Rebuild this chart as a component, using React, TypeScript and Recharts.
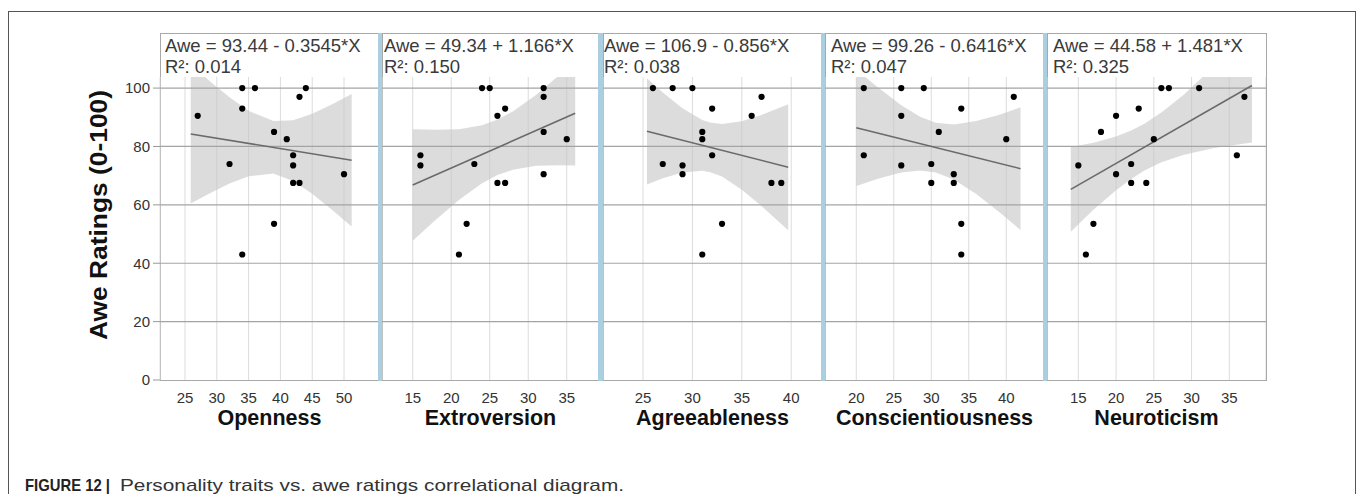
import React from 'react';
import { ComposedChart, Scatter, Area, Line, XAxis, YAxis, CartesianGrid, ReferenceLine } from 'recharts';

const traitNames = ['Openness', 'Extroversion', 'Agreeableness', 'Conscientiousness', 'Neuroticism'];
const equationLabels = [
  'Awe = 93.44 - 0.3545*X',
  'Awe = 49.34 + 1.166*X',
  'Awe = 106.9 - 0.856*X',
  'Awe = 99.26 - 0.6416*X',
  'Awe = 44.58 + 1.481*X',
];
const rSquaredLabels = ['R²: 0.014', 'R²: 0.150', 'R²: 0.038', 'R²: 0.047', 'R²: 0.325'];
const xTickValues = [
  [25, 30, 35, 40, 45, 50],
  [15, 20, 25, 30, 35],
  [25, 30, 35, 40],
  [20, 25, 30, 35, 40],
  [15, 20, 25, 30, 35],
];
const yTickValues = [0, 20, 40, 60, 80, 100];
const gridValues = [20, 40, 60, 80, 100];

// awe rating of each participant (same order in every panel)
const aweRatings = [100, 100, 100, 97, 93, 90.5, 85, 82.5, 77, 74, 73.5, 70.5, 67.5, 67.5, 53.5, 43];
const opennessScores = [34, 36, 44, 43, 34, 27, 39, 41, 42, 32, 42, 50, 42, 43, 39, 34];
const extroversionScores = [24, 25, 32, 32, 27, 26, 32, 35, 16, 23, 16, 32, 26, 27, 22, 21];
const agreeablenessScores = [26, 28, 30, 37, 32, 36, 31, 31, 32, 27, 29, 29, 38, 39, 33, 31];
const conscientiousnessScores = [21, 26, 29, 41, 34, 26, 31, 40, 21, 30, 26, 33, 30, 33, 34, 34];
const neuroticismScores = [26, 27, 31, 37, 23, 20, 18, 25, 36, 22, 15, 20, 22, 24, 17, 16];

// ends of the fitted line
const fitX = [[25.9, 51.2], [15, 36.1], [25.4, 39.7], [20, 41.9], [14, 38]];
const fitY = [[84.3, 75.3], [66.8, 91.4], [85.2, 72.9], [86.4, 72.4], [65.3, 100.9]];

// grey confidence band, sampled along x
const opennessBandX = [25.9, 29, 32, 35, 38.9, 42, 45, 48, 51.2];
const opennessBandLow = [60.5, 64.1, 67.3, 69.8, 70.7, 68.2, 63.8, 58.5, 52.6];
const opennessBandHigh = [108.1, 102.2, 96.9, 92.2, 88.7, 89.0, 91.2, 94.3, 98.0];

const extroversionBandX = [15, 18, 21, 24, 26, 28, 31, 34, 36.1];
const extroversionBandLow = [47.7, 54.9, 61.7, 67.4, 70.2, 72.0, 73.4, 73.6, 73.5];
const extroversionBandHigh = [85.9, 85.7, 85.9, 87.3, 89.2, 92.0, 97.6, 104.4, 109.4];

const agreeablenessBandX = [25.4, 27, 29, 31, 31.8, 33, 35, 37, 39.7];
const agreeablenessBandLow = [67.0, 69.1, 71.1, 71.7, 71.2, 69.7, 65.2, 59.6, 51.3];
const agreeablenessBandHigh = [103.4, 98.5, 93.1, 89.1, 88.2, 87.7, 88.6, 90.8, 94.5];

const conscientiousnessBandX = [20, 23, 26, 28.5, 30.6, 33, 36, 39, 41.9];
const conscientiousnessBandLow = [66.5, 69.0, 71.1, 71.8, 71.1, 68.7, 63.7, 57.6, 51.4];
const conscientiousnessBandHigh = [106.3, 100.0, 94.1, 90.2, 88.1, 87.5, 88.7, 90.8, 93.4];

const neuroticismBandX = [14, 17, 20, 22, 23.7, 26, 29, 33, 38];
const neuroticismBandLow = [50.8, 58.3, 65.0, 68.9, 71.7, 74.6, 77.2, 79.5, 81.4];
const neuroticismBandHigh = [79.8, 81.3, 83.4, 85.5, 87.7, 91.6, 97.8, 107.5, 120.4];

const traitScores = [opennessScores, extroversionScores, agreeablenessScores, conscientiousnessScores, neuroticismScores];
const bandXs = [opennessBandX, extroversionBandX, agreeablenessBandX, conscientiousnessBandX, neuroticismBandX];
const bandLows = [opennessBandLow, extroversionBandLow, agreeablenessBandLow, conscientiousnessBandLow, neuroticismBandLow];
const bandHighs = [opennessBandHigh, extroversionBandHigh, agreeablenessBandHigh, conscientiousnessBandHigh, neuroticismBandHigh];

// layout (page pixels)
const panelLeft = [160, 382, 603, 825, 1047];
const panelRight = [379, 599, 822, 1044, 1266];
const xDomains = [[21.07, 55.5], [11.01, 39.19], [20.95, 43.12], [15.83, 45.03], [10.85, 39.86]];
const textOffset = [5, 2, 1, 6, 6];
const PANEL_TOP = 33;
const PLOT_TOP = 77;
const PLOT_BOTTOM = 380;
const Y_AXIS_W = 60;

const font = '"Liberation Sans", Arial, Helvetica, sans-serif';

const Dot = (p: any) => <circle cx={p.cx} cy={p.cy} r={3.1} fill="#000" />;

function Panel({ i }: { i: number }) {
  const first = i === 0;
  const plotW = panelRight[i] - panelLeft[i];
  const points = traitScores[i].map((x, k) => ({ x, y: aweRatings[k] }));
  const last = bandXs[i].length - 1;
  const rows = bandXs[i].map((x, k) => ({
    x,
    band: [bandLows[i][k], bandHighs[i][k]],
    fit: k === 0 ? fitY[i][0] : k === last ? fitY[i][1] : null,
  }));

  return (
    <div
      style={{
        position: 'absolute',
        left: panelLeft[i] - (first ? Y_AXIS_W : 0),
        top: PLOT_TOP,
      }}
    >
      <ComposedChart
        width={plotW + (first ? Y_AXIS_W : 0)}
        height={PLOT_BOTTOM - PLOT_TOP + 30}
        data={rows}
        margin={{ top: 0, right: 0, bottom: 0, left: 0 }}
      >
        <CartesianGrid horizontal={false} stroke="#dcdcdc" strokeWidth={1} />
        <XAxis
          type="number"
          dataKey="x"
          domain={xDomains[i]}
          ticks={xTickValues[i]}
          interval={0}
          allowDataOverflow
          height={30}
          tickLine={false}
          axisLine={false}
          tickSize={10}
          tickMargin={2}
          tick={{ fontSize: 15, fill: '#333' }}
        />
        <YAxis
          type="number"
          dataKey="y"
          domain={[0, 103.8]}
          ticks={yTickValues}
          interval={0}
          allowDataOverflow
          hide={!first}
          width={Y_AXIS_W}
          axisLine={false}
          tickLine={{ stroke: '#999' }}
          tickSize={7}
          tickMargin={3}
          tick={{ fontSize: 15, fill: '#333' }}
        />
        {gridValues.map((v) => (
          <ReferenceLine key={v} y={v} stroke="#a4a4a4" strokeWidth={1.2} />
        ))}
        <Area
          dataKey="band"
          stroke="none"
          fill="#c4c4c4"
          fillOpacity={0.6}
          isAnimationActive={false}
          activeDot={false}
        />
        <Line
          dataKey="fit"
          stroke="#6a6a6a"
          strokeWidth={1.6}
          dot={false}
          connectNulls
          isAnimationActive={false}
        />
        <Scatter data={points} shape={Dot} isAnimationActive={false} />
      </ComposedChart>
    </div>
  );
}

export default function App() {
  return (
    <div
      style={{
        position: 'absolute',
        left: 0,
        top: 0,
        width: 1357,
        height: 494,
        overflow: 'hidden',
        background: '#fff',
        fontFamily: font,
      }}
    >
      {/* outer figure frame */}
      <div
        style={{
          position: 'absolute',
          left: 8,
          top: 11,
          width: 1348,
          height: 600,
          border: '1px solid #555',
          boxSizing: 'border-box',
        }}
      />
      {/* panel boxes */}
      {panelLeft.map((l, i) => (
        <div
          key={'box' + i}
          style={{
            position: 'absolute',
            left: l,
            top: PANEL_TOP,
            width: panelRight[i] - l + 1,
            height: PLOT_BOTTOM - PANEL_TOP + 1,
            border: '1px solid #a8a8a8',
            boxSizing: 'border-box',
          }}
        />
      ))}

      {panelLeft.map((_, i) => (
        <Panel key={i} i={i} />
      ))}

      {/* blue separators between panels */}
      {panelRight.slice(0, 4).map((r, i) => (
        <div
          key={'sep' + i}
          style={{
            position: 'absolute',
            left: r - 1,
            top: PANEL_TOP,
            width: panelLeft[i + 1] - r + 1,
            height: PLOT_BOTTOM - PANEL_TOP + 1,
            background: '#a9cfe1',
          }}
        />
      ))}

      <svg
        width={1357}
        height={494}
        style={{ position: 'absolute', left: 0, top: 0, pointerEvents: 'none' }}
        fontFamily={font}
      >
        {panelLeft.map((l, i) => (
          <g key={'eq' + i} fill="#3a3a3a" fontSize={18.5}>
            <text x={l + textOffset[i]} y={51.7}>{equationLabels[i]}</text>
            <text x={l + textOffset[i]} y={72.7}>{rSquaredLabels[i]}</text>
          </g>
        ))}
        {panelLeft.map((l, i) => (
          <text
            key={'t' + i}
            x={(l + panelRight[i]) / 2}
            y={425}
            textAnchor="middle"
            fontSize={21.5}
            fontWeight="bold"
            fill="#111"
          >
            {traitNames[i]}
          </text>
        ))}
        <text
          x={99}
          y={215}
          transform="rotate(-90 99 215)"
          textAnchor="middle"
          dominantBaseline="central"
          fontSize={23}
          fontWeight="bold"
          fill="#111"
          textLength={250}
          lengthAdjust="spacingAndGlyphs"
        >
          Awe Ratings (0-100)
        </text>
        <text
          x={25}
          y={491}
          fontSize={17}
          fontWeight="bold"
          fill="#222"
          textLength={85}
          lengthAdjust="spacingAndGlyphs"
        >
          FIGURE 12 |
        </text>
        <text
          x={120}
          y={491}
          fontSize={17}
          fill="#333"
          textLength={504}
          lengthAdjust="spacingAndGlyphs"
        >
          Personality traits vs. awe ratings correlational diagram.
        </text>
      </svg>
    </div>
  );
}
